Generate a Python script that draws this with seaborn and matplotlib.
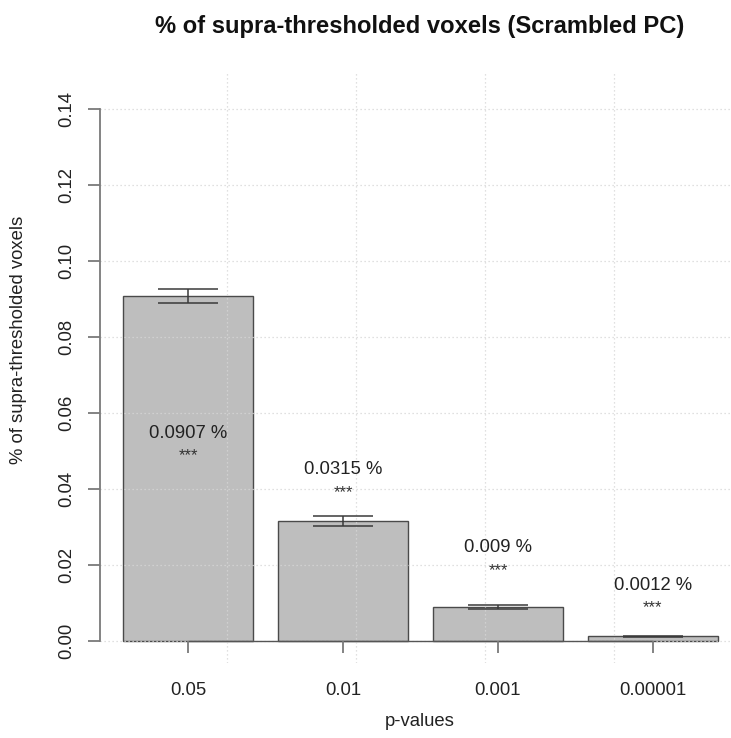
import matplotlib
matplotlib.use("Agg")
import matplotlib.pyplot as plt
import seaborn as sns
import pandas as pd
import numpy as np

# Data
p_labels = ["0.05", "0.01", "0.001", "0.00001"]
pct_voxels = [0.0907, 0.0315, 0.009, 0.0012]
std_err = [0.0018, 0.0013, 0.0005, 0.0002]
signif = ["***", "***", "***", "***"]
y_ticks = [0.00, 0.02, 0.04, 0.06, 0.08, 0.10, 0.12, 0.14]

# Heights (data units) for the value / significance annotations
label_y = [0.0547, 0.0450, 0.0245, 0.0147]
star_drop = 0.0071

sns.set_style("white")
plt.rcParams["font.family"] = ["Liberation Sans", "DejaVu Sans"]

df = pd.DataFrame({"p": p_labels, "pct": pct_voxels})

fig = plt.figure(figsize=(7.31, 7.38), dpi=100)
W, H = 731, 738
# plot region in pixels: x 100..741, y 73..663
ax = fig.add_axes([100 / W, (H - 663) / H, 641 / W, 590 / H])

bar_w = 130 / 155
sns.barplot(data=df, x="p", y="pct", order=p_labels, color="#bebebe",
            saturation=1, width=bar_w, edgecolor="#4a4a4a", linewidth=1.0,
            errorbar=None, ax=ax, zorder=1)

ax.set_xlim(-0.568, 3.568)
ax.set_ylim(-0.00579, 0.14947)

# dotted grid drawn over the bars
grid_kw = dict(color="#d6d6d6", linestyle=(0, (1, 2.2)), linewidth=0.9, zorder=2)
for yt in y_ticks:
    ax.axhline(yt, **grid_kw)
for gx in [1, 2, 3, 4]:
    ax.axvline((gx - 0.7) / 1.2, **grid_kw)

# baseline axis between first and last bar centres
ax.plot([0, len(p_labels) - 1], [0, 0], color="#555555", lw=1.0, zorder=3,
        solid_capstyle="butt")

ax.errorbar(x=np.arange(len(p_labels)), y=pct_voxels, yerr=std_err,
            fmt="none", ecolor="#3a3a3a", elinewidth=1.1, capsize=21.6,
            capthick=1.1, zorder=4)

fs = 13.3
for i, (v, s, ly) in enumerate(zip(pct_voxels, signif, label_y)):
    ax.text(i, ly, f"{v} %", ha="center", va="center", fontsize=fs,
            color="#222222", zorder=5)
    ax.text(i, ly - star_drop, s, ha="center", va="baseline", fontsize=12,
            color="#333333", zorder=5)

# spines / axes in base-graphics style
for side in ["top", "right", "bottom"]:
    ax.spines[side].set_visible(False)
ax.spines["left"].set_bounds(0, 0.14)
ax.spines["left"].set_color("#7a7a7a")
ax.spines["left"].set_linewidth(1.3)

ax.set_yticks(y_ticks)
ax.set_yticklabels([f"{t:.2f}" for t in y_ticks], rotation=90, va="center",
                   fontsize=fs, color="#222222")
ax.tick_params(axis="y", length=9, width=1.3, color="#7a7a7a", pad=9, left=True)

ax.set_xticks(range(len(p_labels)))
ax.set_xticklabels(p_labels, fontsize=fs, color="#222222")
ax.tick_params(axis="x", length=0, pad=14, bottom=False)
for i in range(len(p_labels)):
    ax.plot([i, i], [0, -0.0032], color="#7a7a7a", lw=1.3, zorder=3,
            clip_on=False, solid_capstyle="butt")

ax.set_xlabel("")
ax.set_ylabel("")
fig.text(420 / W, 1 - 722 / H, "p-values", ha="center", va="center",
         fontsize=fs, color="#222222")
fig.text(19 / W, 1 - 340 / H, "% of supra-thresholded voxels", rotation=90,
         ha="center", va="center", fontsize=fs, color="#222222")
fig.text(420 / W, 1 - 26 / H, "% of supra-thresholded voxels (Scrambled PC)",
         ha="center", va="center", fontsize=17.1, fontweight="bold", color="#111111")

fig.savefig("out.png", dpi=100)
